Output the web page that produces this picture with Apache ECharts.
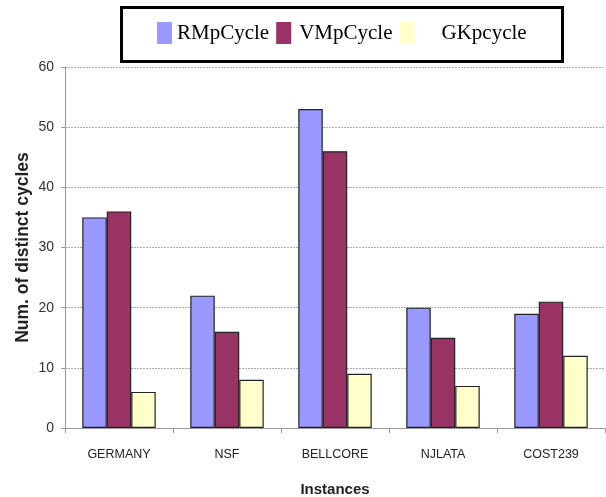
<!DOCTYPE html>
<html>
<head>
<meta charset="utf-8">
<script src="https://cdn.jsdelivr.net/npm/echarts@6/dist/echarts.min.js"></script>
<style>
  html, body { margin: 0; padding: 0; background: #fff; }
  #main { width: 606px; height: 497px; }
</style>
</head>
<body>
<div id="main"></div>
<script>
// data
var categories = ['GERMANY', 'NSF', 'BELLCORE', 'NJLATA', 'COST239'];
var rmpCycle = [35, 22, 53, 20, 19];
var vmpCycle = [36, 16, 46, 15, 21];
var gkPcycle = [6, 8, 9, 7, 12];
var yTicks = [0, 10, 20, 30, 40, 50, 60];

var myChart = echarts.init(document.getElementById('main'));

var barStyle = function (color) {
  return { color: color, borderColor: '#222', borderWidth: 1.2 };
};

var option = {
  animation: false,
  graphic: [{
    type: 'rect',
    shape: { x: 121.5, y: 7.5, width: 441, height: 54 },
    style: { fill: 'none', stroke: '#000', lineWidth: 3 }
  }],
  legend: {
    left: 157,
    top: 22,
    padding: 0,
    itemWidth: 15,
    itemHeight: 22,
    itemGap: 7,
    icon: 'rect',
    itemStyle: { borderWidth: 0 },
    textStyle: { fontFamily: 'Liberation Serif', fontSize: 21, color: '#000' },
    data: [
      { name: 'RMpCycle' },
      { name: 'VMpCycle', textStyle: { padding: [0, 0, 0, 3] } },
      { name: 'GKpcycle', textStyle: { padding: [0, 0, 0, 22] } }
    ]
  },
  grid: { left: 65, right: 1, top: 67, bottom: 69, outerBoundsMode: 'none', containLabel: false },
  xAxis: {
    type: 'category',
    data: categories,
    name: 'Instances',
    nameLocation: 'middle',
    nameGap: 54,
    nameMoveOverlap: false,
    nameTextStyle: { fontFamily: 'Liberation Sans', fontWeight: 'bold', fontSize: 15, color: '#222' },
    axisLine: { lineStyle: { color: '#999', width: 1 } },
    axisTick: { show: true, length: 5, lineStyle: { color: '#999' } },
    axisLabel: { fontFamily: 'Liberation Sans', fontSize: 12.5, color: '#222', margin: 20 }
  },
  yAxis: {
    type: 'value',
    min: yTicks[0],
    max: yTicks[yTicks.length - 1],
    interval: 10,
    name: 'Num. of distinct cycles',
    nameLocation: 'middle',
    nameGap: 33,
    nameMoveOverlap: false,
    nameTextStyle: { fontFamily: 'Liberation Sans', fontWeight: 'bold', fontSize: 17.5, color: '#222' },
    axisLine: { show: true, lineStyle: { color: '#999', width: 1 } },
    axisTick: { show: true, length: 4, lineStyle: { color: '#999' } },
    axisLabel: { fontFamily: 'Liberation Sans', fontSize: 14, color: '#333', margin: 11 },
    splitLine: { lineStyle: { color: '#aaa', type: [2, 1], width: 1 } }
  },
  series: [
    { name: 'RMpCycle', type: 'bar', data: rmpCycle, barGap: '0%', barCategoryGap: '32%', itemStyle: barStyle('#9999ff') },
    { name: 'VMpCycle', type: 'bar', data: vmpCycle, barGap: '0%', barCategoryGap: '32%', itemStyle: barStyle('#993366') },
    { name: 'GKpcycle', type: 'bar', data: gkPcycle, barGap: '0%', barCategoryGap: '32%', itemStyle: barStyle('#ffffcc') }
  ]
};

myChart.setOption(option);
</script>
</body>
</html>
